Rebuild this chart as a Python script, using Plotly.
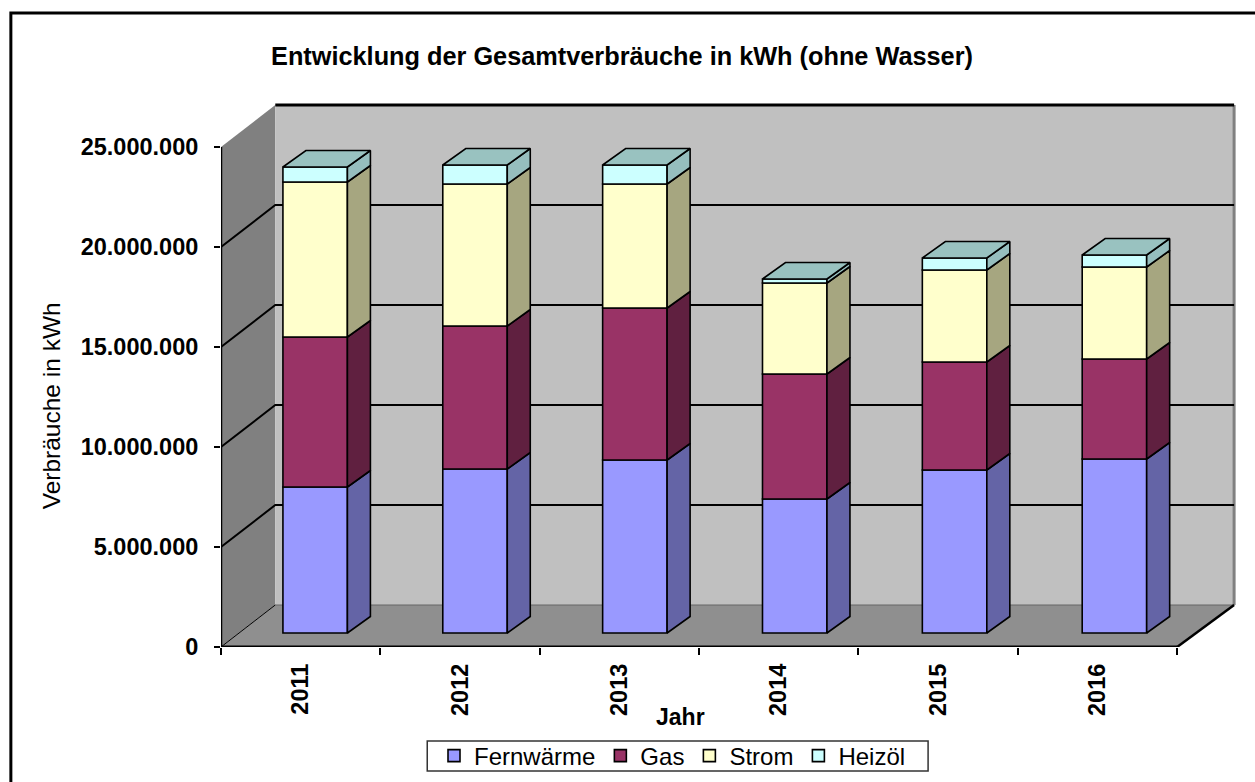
import plotly.graph_objects as go

years = ["2011", "2012", "2013", "2014", "2015", "2016"]
fernwaerme = [7300000, 8200000, 8650000, 6700000, 8150000, 8700000]
gas = [7500000, 7150000, 7600000, 6250000, 5400000, 5000000]
strom = [7750000, 7100000, 6200000, 4550000, 4600000, 4600000]
heizoel = [750000, 950000, 950000, 200000, 600000, 600000]
series_names = ["Fernwärme", "Gas", "Strom", "Heizöl"]
front_colors = ["#9999FF", "#993366", "#FFFFCC", "#CCFFFF"]
side_colors = ["#6464A6", "#602040", "#A6A680", "#96BEBE"]
top_color = "#99C2C0"
y_ticks = [0, 5000000, 10000000, 15000000, 20000000, 25000000]
y_labels = ["0", "5.000.000", "10.000.000", "15.000.000", "20.000.000", "25.000.000"]

W, H = 1255, 782
L, R, T, B = 220.7, 17, 100, 135
PX_CAT = 159.4          # pixels per category on the front edge
PX_BAR = 159.9          # pixels between neighbouring bars
PX_VAL = 50000          # kWh per pixel
FONT = "Liberation Sans, Arial, sans-serif"

x_max = (W - R - L) / PX_CAT
y_max = (H - B - T) * PX_VAL

# projection offsets, expressed on the axes
WALL_DX, WALL_DY = 54.3 / PX_CAT, 42 * PX_VAL
WALL_DX_R = 57 / PX_CAT
BAR_SHIFT_X, BAR_SHIFT_Y = 14.5 / PX_CAT, 14 * PX_VAL
DEPTH_DX, DEPTH_DY = 23 / PX_CAT, 16.5 * PX_VAL
BAR_W = 64.5 / PX_CAT
N = len(years)

def px(p):
    return (p - L) / (W - L - R)

def py(p):
    return (H - B - p) / (H - T - B)

fig = go.Figure()
series = [fernwaerme, gas, strom, heizoel]
centers = [0.5 + BAR_SHIFT_X + i * PX_BAR / PX_CAT for i in range(N)]
base = [0] * N
side_traces = []
for name, vals, fc, sc in zip(series_names, series, front_colors, side_colors):
    bases = [b + BAR_SHIFT_Y for b in base]
    fig.add_trace(go.Bar(
        x=centers, y=vals, base=bases, width=BAR_W, name=name,
        marker=dict(color=fc, line=dict(color="black", width=1.6)),
        hoverinfo="skip",
    ))
    xs, ys = [], []
    for c, b, v in zip(centers, bases, vals):
        r = c + BAR_W / 2
        xs += [r, r + DEPTH_DX, r + DEPTH_DX, r, r, None]
        ys += [b, b + DEPTH_DY, b + v + DEPTH_DY, b + v, b, None]
    side_traces.append((xs, ys, sc))
    base = [b + v for b, v in zip(base, vals)]

for xs, ys, sc in side_traces:
    fig.add_trace(go.Scatter(
        x=xs, y=ys, mode="lines", fill="toself", fillcolor=sc,
        line=dict(color="black", width=1.6), showlegend=False, hoverinfo="skip",
    ))

# top faces
xs, ys = [], []
for c, b in zip(centers, base):
    t = b + BAR_SHIFT_Y
    l, r = c - BAR_W / 2, c + BAR_W / 2
    xs += [l, l + DEPTH_DX, r + DEPTH_DX, r, l, None]
    ys += [t, t + DEPTH_DY, t + DEPTH_DY, t, t, None]
fig.add_trace(go.Scatter(
    x=xs, y=ys, mode="lines", fill="toself", fillcolor=top_color,
    line=dict(color="black", width=1.6), showlegend=False, hoverinfo="skip",
))

def axis_line(x, y, width, color="black"):
    fig.add_trace(go.Scatter(
        x=x, y=y, mode="lines", line=dict(color=color, width=width),
        showlegend=False, hoverinfo="skip", cliponaxis=False,
    ))

top = y_ticks[-1]
RIGHT = N + WALL_DX_R
axis_line([0, 0], [0, top], 2.5)
axis_line([0, N], [0, 0], 3)
axis_line([N, RIGHT], [0, WALL_DY], 2.5)
axis_line([0, WALL_DX], [0, WALL_DY], 1)
axis_line([WALL_DX, RIGHT], [top + WALL_DY, top + WALL_DY], 3)

shapes = [
    dict(type="path", path=f"M 0 0 L {WALL_DX} {WALL_DY} L {WALL_DX} {top + WALL_DY} L 0 {top} Z",
         fillcolor="#808080", line=dict(width=0), layer="below"),
    dict(type="rect", x0=WALL_DX, x1=RIGHT, y0=WALL_DY, y1=top + WALL_DY,
         fillcolor="#C0C0C0", line=dict(width=0), layer="below"),
    dict(type="path", path=f"M 0 0 L {WALL_DX} {WALL_DY} L {RIGHT} {WALL_DY} L {N} 0 Z",
         fillcolor="#8F8F8F", line=dict(width=0), layer="below"),
    dict(type="line", x0=RIGHT, x1=RIGHT, y0=WALL_DY, y1=top + WALL_DY,
         line=dict(color="#808080", width=3), layer="below"),
    dict(type="line", x0=WALL_DX, x1=RIGHT, y0=WALL_DY, y1=WALL_DY,
         line=dict(color="#666666", width=1), layer="below"),
]
for v in y_ticks[1:-1]:
    shapes.append(dict(type="path", path=f"M 0 {v} L {WALL_DX} {v + WALL_DY} L {RIGHT} {v + WALL_DY}",
                       line=dict(color="black", width=2), layer="below"))
# outer frame of the picture
shapes.append(dict(type="path", xref="paper", yref="paper",
                   path=f"M {px(10.5)} {py(H)} L {px(10.5)} {py(13)} L {px(W)} {py(13)}",
                   line=dict(color="black", width=3), layer="above"))
# legend box
shapes.append(dict(type="rect", xref="paper", yref="paper",
                   x0=px(427), x1=px(928), y0=py(771), y1=py(741),
                   fillcolor="white", line=dict(color="#333333", width=1.5), layer="above"))

fig.update_layout(
    width=W, height=H, autosize=False,
    margin=dict(l=L, r=R, t=T, b=B, pad=0),
    paper_bgcolor="white", plot_bgcolor="white",
    barmode="overlay", shapes=shapes,
    font=dict(family=FONT, color="black"),
    title=dict(text="<b>Entwicklung der Gesamtverbräuche in kWh (ohne Wasser)</b>",
               font=dict(size=25.3, family=FONT), x=622 / W, xanchor="center",
               y=1 - 56 / H, yanchor="middle", xref="container", yref="container"),
    xaxis=dict(range=[0, x_max], tickvals=[i + 0.5 for i in range(N)], ticktext=years,
               tickangle=-90, tickfont=dict(size=23.5, family=FONT, weight="bold"),
               ticks="", showgrid=False, zeroline=False, showline=False, ticklabelstandoff=11,
               minor=dict(tickvals=list(range(N + 1)), ticks="outside", ticklen=7, tickwidth=1.5,
                          tickcolor="black", showgrid=False)),
    yaxis=dict(range=[0, y_max], tickvals=y_ticks, ticktext=y_labels,
               tickfont=dict(size=23.5, family=FONT, weight="bold"),
               ticks="outside", ticklen=6, tickwidth=1.5, tickcolor="black",
               showgrid=False, zeroline=False, showline=False, ticklabelstandoff=11),
    legend=dict(orientation="h", xref="container", yref="container",
                x=434 / W, y=1 - 756 / H, xanchor="left", yanchor="middle",
                bgcolor="rgba(0,0,0,0)", borderwidth=0,
                font=dict(size=24, family=FONT), traceorder="normal"),
    annotations=[
        dict(text="Verbräuche in kWh", xref="paper", yref="paper", x=px(51), y=py(406),
             textangle=-90, showarrow=False, font=dict(size=24.5, family=FONT),
             xanchor="center", yanchor="middle"),
        dict(text="<b>Jahr</b>", xref="paper", yref="paper", x=px(680), y=py(717),
             showarrow=False, font=dict(size=23, family=FONT),
             xanchor="center", yanchor="middle"),
    ],
)

fig.write_html("out.html", config={"displayModeBar": False},
               post_script="document.body.style.margin='0';document.body.style.overflow='hidden';")
